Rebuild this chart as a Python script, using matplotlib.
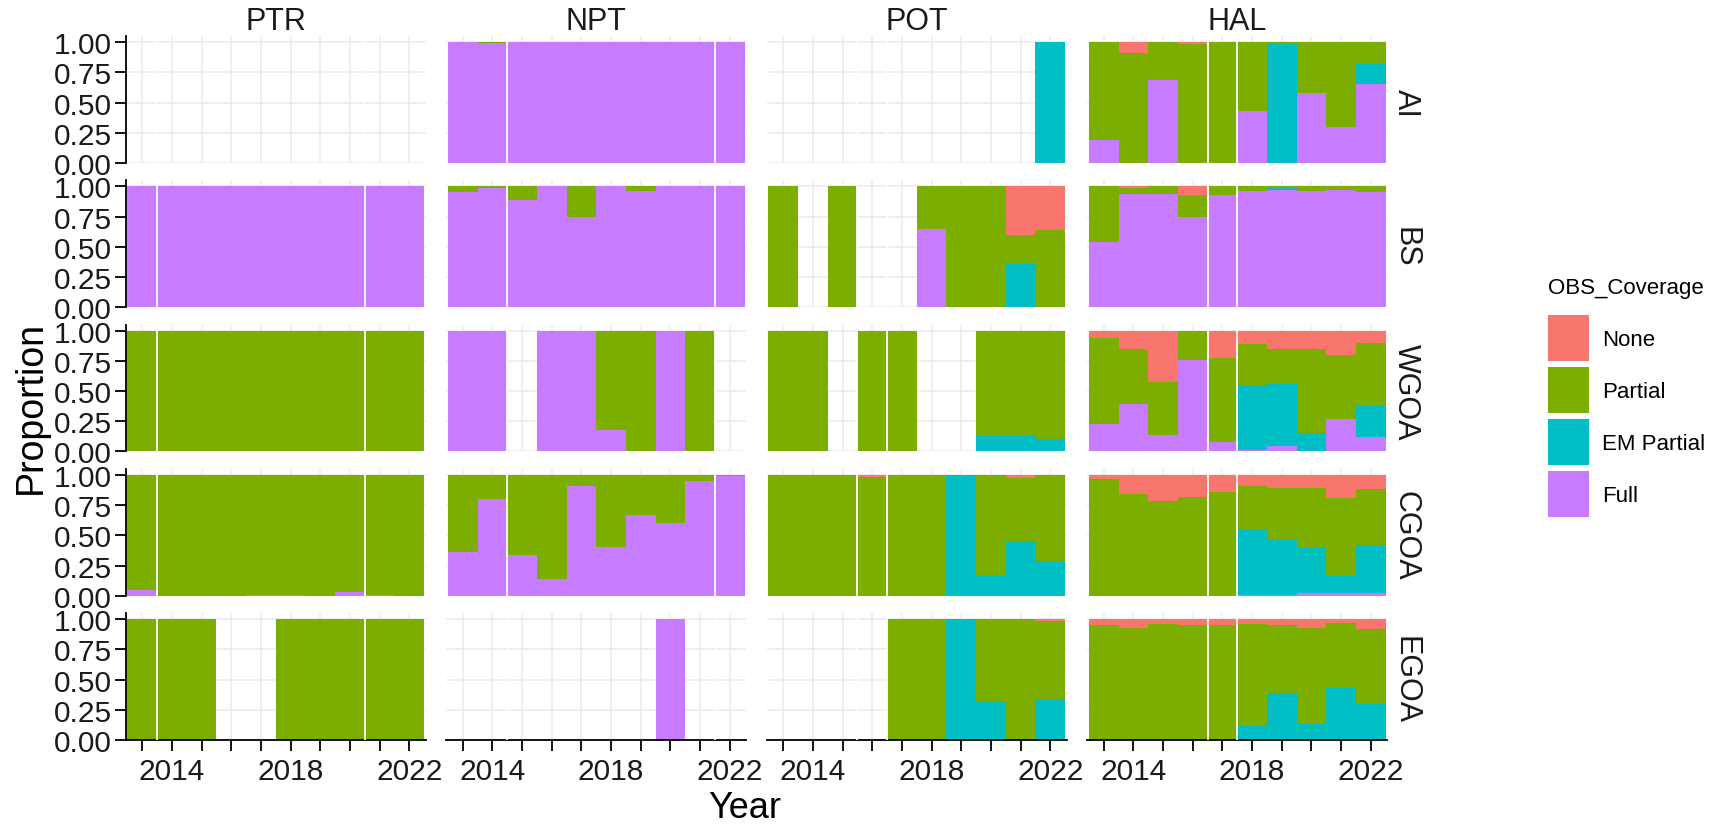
import numpy as np
import matplotlib
matplotlib.use("Agg")
import matplotlib.pyplot as plt
from matplotlib.patches import Patch

plt.rcParams['font.family'] = ['Liberation Sans', 'DejaVu Sans']

years = list(range(2013, 2023))
gears = ["PTR", "NPT", "POT", "HAL"]
areas = ["AI", "BS", "WGOA", "CGOA", "EGOA"]
levels = ["None", "Partial", "EM Partial", "Full"]
colors = {"None": "#F8766D", "Partial": "#7CAE00", "EM Partial": "#00BFC4", "Full": "#C77CFF"}

# proportions per year (2013..2022); a year with all zeros has no bar
ptr_ai = {}
ptr_bs = {"Full": [1, 1, 1, 1, 1, 1, 1, 1, 1, 1]}
ptr_wgoa = {"Partial": [1, 1, 1, 1, 1, 1, 1, 1, 1, 1]}
ptr_cgoa = {"Partial": [0.95, 1, 1, 1, 0.99, 0.99, 1, 0.97, 0.99, 1],
            "Full": [0.05, 0, 0, 0, 0.01, 0.01, 0, 0.03, 0.01, 0]}
ptr_egoa = {"Partial": [1, 1, 1, 0, 0, 1, 1, 1, 1, 1]}

npt_ai = {"Partial": [0, 0.01, 0, 0, 0, 0, 0, 0, 0, 0],
          "Full": [1, 0.99, 1, 1, 1, 1, 1, 1, 1, 1]}
npt_bs = {"Partial": [0.05, 0.01, 0.11, 0, 0.25, 0, 0.04, 0, 0, 0],
          "Full": [0.95, 0.99, 0.89, 1, 0.75, 1, 0.96, 1, 1, 1]}
npt_wgoa = {"Partial": [0, 0, 0, 0, 0, 0.82, 1, 0, 1, 0],
            "Full": [1, 1, 0, 1, 1, 0.18, 0, 1, 0, 0]}
npt_cgoa = {"Partial": [0.64, 0.20, 0.66, 0.86, 0.09, 0.60, 0.33, 0.40, 0.05, 0.01],
            "Full": [0.36, 0.80, 0.34, 0.14, 0.91, 0.40, 0.67, 0.60, 0.95, 0.99]}
npt_egoa = {"Full": [0, 0, 0, 0, 0, 0, 0, 1, 0, 0]}

pot_ai = {"EM Partial": [0, 0, 0, 0, 0, 0, 0, 0, 0, 1]}
pot_bs = {"None": [0, 0, 0, 0, 0, 0, 0, 0, 0.40, 0.36],
          "Partial": [1, 0, 1, 0, 0, 0.35, 1, 1, 0.24, 0.64],
          "EM Partial": [0, 0, 0, 0, 0, 0, 0, 0, 0.36, 0],
          "Full": [0, 0, 0, 0, 0, 0.65, 0, 0, 0, 0]}
pot_wgoa = {"Partial": [1, 1, 0, 1, 1, 0, 0, 0.86, 0.86, 0.90],
            "EM Partial": [0, 0, 0, 0, 0, 0, 0, 0.14, 0.14, 0.10]}
pot_cgoa = {"None": [0, 0, 0, 0.02, 0, 0, 0, 0, 0.03, 0],
            "Partial": [1, 1, 1, 0.98, 1, 1, 0, 0.83, 0.52, 0.71],
            "EM Partial": [0, 0, 0, 0, 0, 0, 1, 0.17, 0.45, 0.29]}
pot_egoa = {"None": [0, 0, 0, 0, 0, 0, 0, 0, 0, 0.015],
            "Partial": [0, 0, 0, 0, 1, 1, 0, 0.68, 1, 0.645],
            "EM Partial": [0, 0, 0, 0, 0, 0, 1, 0.32, 0, 0.34]}

hal_ai = {"None": [0, 0.09, 0, 0.02, 0, 0, 0, 0, 0, 0],
          "Partial": [0.81, 0.91, 0.31, 0.98, 1, 0.57, 0.02, 0.42, 0.70, 0.18],
          "EM Partial": [0, 0, 0, 0, 0, 0, 0.98, 0, 0, 0.17],
          "Full": [0.19, 0, 0.69, 0, 0, 0.43, 0, 0.58, 0.30, 0.65]}
hal_bs = {"None": [0, 0.014, 0, 0.074, 0, 0, 0, 0, 0, 0],
          "Partial": [0.46, 0.046, 0.06, 0.18, 0.074, 0.04, 0.014, 0.04, 0.03, 0.05],
          "EM Partial": [0, 0, 0, 0, 0, 0, 0.02, 0, 0, 0],
          "Full": [0.54, 0.94, 0.94, 0.746, 0.926, 0.96, 0.966, 0.96, 0.97, 0.95]}
hal_wgoa = {"None": [0.058, 0.149, 0.424, 0, 0.223, 0.113, 0.149, 0.149, 0.20, 0.10],
            "Partial": [0.716, 0.46, 0.438, 0.242, 0.697, 0.347, 0.295, 0.694, 0.53, 0.52],
            "EM Partial": [0, 0, 0, 0, 0, 0.529, 0.51, 0.157, 0, 0.26],
            "Full": [0.226, 0.39, 0.138, 0.758, 0.08, 0.011, 0.047, 0, 0.27, 0.12]}
hal_cgoa = {"None": [0.036, 0.16, 0.215, 0.18, 0.143, 0.09, 0.105, 0.105, 0.19, 0.12],
            "Partial": [0.964, 0.84, 0.785, 0.82, 0.857, 0.37, 0.427, 0.495, 0.65, 0.46],
            "EM Partial": [0, 0, 0, 0, 0, 0.53, 0.458, 0.38, 0.14, 0.40],
            "Full": [0, 0, 0, 0, 0, 0.01, 0.01, 0.02, 0.02, 0.02]}
hal_egoa = {"None": [0.053, 0.075, 0.04, 0.053, 0.053, 0.04, 0.053, 0.075, 0.03, 0.08],
            "Partial": [0.947, 0.925, 0.96, 0.947, 0.947, 0.846, 0.557, 0.792, 0.54, 0.62],
            "EM Partial": [0, 0, 0, 0, 0, 0.114, 0.39, 0.133, 0.43, 0.30]}

# places where neighbouring bars leave a thin white seam
seams = {"PTR": [2013.5, 2020.5], "NPT": [2014.5, 2021.5],
         "POT": [2015.5, 2016.5], "HAL": [2016.5, 2017.5]}

panels = {
    ("PTR", "AI"): ptr_ai, ("PTR", "BS"): ptr_bs, ("PTR", "WGOA"): ptr_wgoa,
    ("PTR", "CGOA"): ptr_cgoa, ("PTR", "EGOA"): ptr_egoa,
    ("NPT", "AI"): npt_ai, ("NPT", "BS"): npt_bs, ("NPT", "WGOA"): npt_wgoa,
    ("NPT", "CGOA"): npt_cgoa, ("NPT", "EGOA"): npt_egoa,
    ("POT", "AI"): pot_ai, ("POT", "BS"): pot_bs, ("POT", "WGOA"): pot_wgoa,
    ("POT", "CGOA"): pot_cgoa, ("POT", "EGOA"): pot_egoa,
    ("HAL", "AI"): hal_ai, ("HAL", "BS"): hal_bs, ("HAL", "WGOA"): hal_wgoa,
    ("HAL", "CGOA"): hal_cgoa, ("HAL", "EGOA"): hal_egoa,
}

fig = plt.figure(figsize=(17.19, 8.28), dpi=100)
gs = fig.add_gridspec(len(areas), len(gears), left=126 / 1719, right=1387 / 1719,
                      top=1 - 37 / 828, bottom=1 - 741 / 828, wspace=0.07, hspace=0.136)

grid_col = "#EBEBEB"
text_col = "#1a1a1a"
x = np.array(years)

for r, area in enumerate(areas):
    for c, gear in enumerate(gears):
        ax = fig.add_subplot(gs[r, c])
        data = panels[(gear, area)]
        vals = {lv: np.array(data.get(lv, [0] * len(years)), dtype=float) for lv in levels}
        total = sum(vals.values())
        safe = np.where(total > 0, total, 1)
        bottom = np.zeros(len(years))
        # stack from Full upward, None on top
        for lv in levels[::-1]:
            h = vals[lv] / safe
            ax.bar(x, h, width=1.0, bottom=bottom, color=colors[lv], linewidth=0, zorder=2)
            bottom += h
        for s in seams[gear]:
            ax.axvline(s, ymin=0, ymax=1 / 1.05, color="white", lw=1.3, zorder=3)

        ax.set_xlim(2012.45, 2022.55)
        ax.set_ylim(0, 1.05)
        ax.set_xticks(years)
        ax.set_yticks([0, 0.25, 0.5, 0.75, 1.0])
        ax.grid(True, color=grid_col, lw=1.1, zorder=0)
        ax.set_axisbelow(True)
        for sp in ax.spines.values():
            sp.set_visible(False)

        ax.tick_params(axis="both", length=0, labelsize=21.5, colors=text_col)
        if c == 0:
            ax.spines["left"].set_visible(True)
            ax.spines["left"].set_color("black")
            ax.spines["left"].set_linewidth(1.3)
            ax.tick_params(axis="y", length=8, width=1.3, color="black", pad=2)
            ax.set_yticklabels(["0.00", "0.25", "0.50", "0.75", "1.00"])
        else:
            ax.set_yticklabels([])
        if r == len(areas) - 1:
            ax.spines["bottom"].set_visible(True)
            ax.spines["bottom"].set_color("black")
            ax.spines["bottom"].set_linewidth(1.3)
            ax.tick_params(axis="x", length=8, width=1.3, color="black", pad=4)
            ax.set_xticklabels([str(y) if y in (2014, 2018, 2022) else "" for y in years])
        else:
            ax.set_xticklabels([])

        if r == 0:
            ax.set_title(gear, fontsize=22, color=text_col, pad=1)
        if c == len(gears) - 1:
            ax.text(1.012, 0.5 / 1.05, area, transform=ax.transAxes, rotation=270,
                    ha="left", va="center", fontsize=22, color=text_col)

fig.text(745 / 1719, 1 - 809 / 828, "Year", ha="center", va="center", fontsize=26)
fig.text(31 / 1719, 1 - 408 / 828, "Proportion", ha="center", va="center",
         rotation=90, fontsize=27)

handles = [Patch(facecolor=colors[lv], edgecolor="none") for lv in levels]
leg = fig.legend(handles, levels, title="OBS_Coverage", loc="upper left",
                 bbox_to_anchor=(1548 / 1719, 1 - 278 / 828), frameon=False,
                 fontsize=16, title_fontsize=16, handlelength=1.85, handleheight=2.8,
                 labelspacing=0.27, handletextpad=0.6, borderpad=0, borderaxespad=0)
leg._legend_box.align = "left"
leg._legend_box.sep = 12.5

fig.savefig("out.png", dpi=100)
